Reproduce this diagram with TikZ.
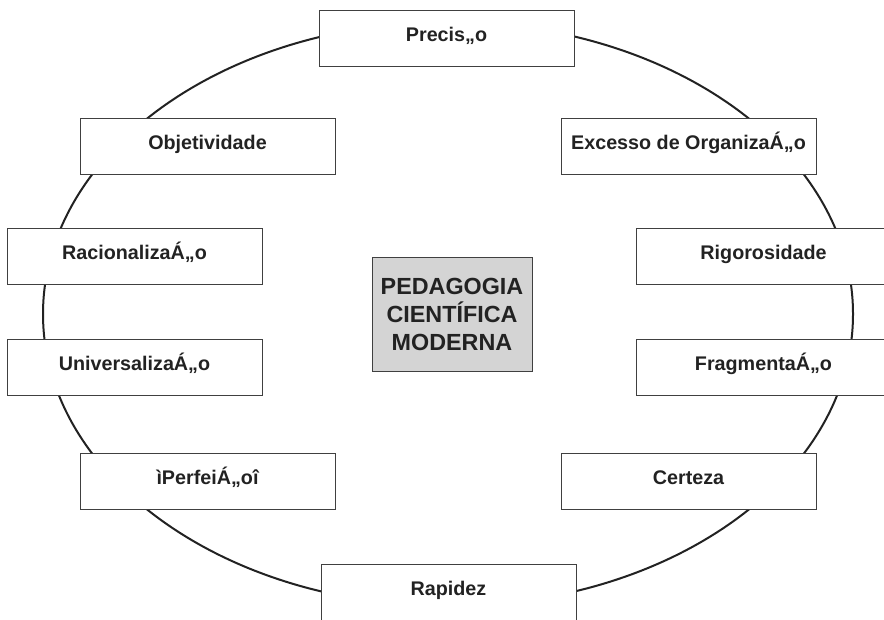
\documentclass[tikz,border=0pt]{standalone}
\usepackage{fontspec}
\setmainfont{Liberation Sans}
\definecolor{boxline}{HTML}{404040}
\definecolor{boxgray}{HTML}{D4D4D4}
\definecolor{ink}{HTML}{222222}
\begin{document}
\begin{tikzpicture}[x=0.75pt,y=-0.75pt,
    item/.style={draw=boxline,line width=0.75pt,fill=white,rectangle,inner sep=0pt,
      minimum width=191.25pt,minimum height=42pt,text height=10.5pt,text depth=6pt,
      font=\fontsize{14.8}{17}\selectfont\bfseries,text=ink},
    core/.style={draw=boxline,line width=0.75pt,fill=boxgray,rectangle,inner sep=0pt,
      minimum width=120pt,minimum height=85.5pt,align=center,
      font=\fontsize{17.5}{21}\selectfont\bfseries,text=ink}]

  \useasboundingbox (0,0) rectangle (884,619);
  \clip (0,0) rectangle (884,619);

  %% ring behind the boxes
  \coordinate (mid) at (448,314);
  \draw[ink,line width=1.5pt] (mid) ellipse [x radius=405,y radius=292];

  \node[core] (ped) at (452,314) {PEDAGOGIA\\CIENTÍFICA\\MODERNA};

  \node[item] (prec) at (446.5,38.5) {Precis„o};
  \node[item] (obj)  at (207.5,146)  {Objetividade};
  \node[item] (exc)  at (688.5,146.5) {Excesso de OrganizaÁ„o};

  \node[item] (rac)  at (134.5,256)  {RacionalizaÁ„o};
  \node[item] (rig)  at (763.5,256)  {Rigorosidade};

  \node[item] (uni)  at (134.5,367.5) {UniversalizaÁ„o};
  \node[item] (frag) at (763.5,367.5) {FragmentaÁ„o};

  \node[item] (perf) at (207.5,481)  {ìPerfeiÁ„oî};
  \node[item] (cert) at (688.5,481)  {Certeza};

  \node[item] (rap)  at (448.5,592)  {Rapidez};

\end{tikzpicture}
\end{document}
